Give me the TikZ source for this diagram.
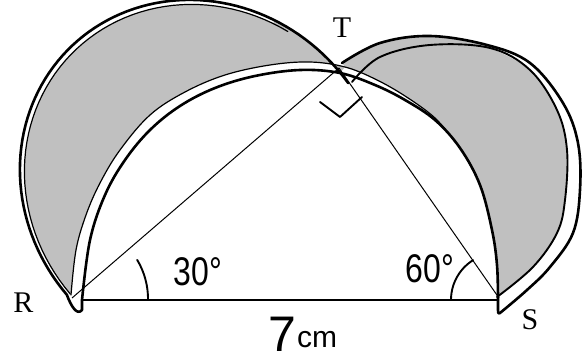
\documentclass[tikz,border=0pt]{standalone}
\usepackage{fontspec}
\setmainfont{Liberation Serif}
\newfontfamily\handfont{Liberation Sans}
\definecolor{lunegray}{RGB}{192,192,192}
\tikzset{
  thickline/.style={line width=2.6pt, line cap=round, line join=round},
  medline/.style={line width=1.9pt, line cap=round, line join=round},
  thinline/.style={line width=1.2pt, line cap=round},
  hairline/.style={line width=1pt},
  lune/.style={fill=lunegray},
  lbl/.style={font=\fontsize{30}{30}\selectfont, inner sep=0pt},
  hand/.style={font=\handfont\fontsize{40}{40}\selectfont, inner sep=0pt, xscale=0.8},
}
% rotated ellipse (outer arc on RT): centre, axes a,b along upper-left / upper-right
\def\ox#1#2#3#4{#3+#1*cos(#4)*(-0.7071)+#2*sin(#4)*(0.7071)}
\def\oy#1#2#3#4{#3+#1*cos(#4)*(-0.7071)+#2*sin(#4)*(-0.7071)}
\begin{document}
\begin{tikzpicture}[x=1pt,y=-1pt]
\useasboundingbox (0,0) rectangle (582,363);
\coordinate (R) at (72,298);
\coordinate (T) at (339,68);
\coordinate (S) at (499,298);
\coordinate (B) at (82,300);
\coordinate (E) at (498,300);

% shaded lunes
\fill[lune] plot[domain=-85:70,samples=60] ({\ox{185}{173}{203.5}{\x}},{\oy{185}{173}{183.5}{\x}})
  -- plot[domain=70:96,samples=15] ({\ox{189}{176}{202.5}{\x}},{\oy{189}{176}{182.5}{\x}})
  -- plot[smooth,tension=0.6] coordinates {(345,67) (310,62) (270,65) (225,75) (185,92) (150,115) (120,150) (100,183) (86,215) (76,250) (71,295)} -- cycle;
\fill[lune] plot[smooth,tension=0.6] coordinates {(342,63) (380,43) (430,36) (487,45)}
  -- plot[smooth,tension=0.6] coordinates {(490,48) (530,70) (557,110) (567,150) (565,200) (557,233) (533,267) (497,297)}
  -- plot[smooth,tension=0.6] coordinates {(498,300) (497,265) (492,230) (480,185) (460,148) (435,118) (405,96) (375,79) (345,67)} -- cycle;

% main continuous stroke
\draw[thickline] plot[domain=100:-85,samples=80] ({\ox{189}{176}{202.5}{\x}},{\oy{189}{176}{182.5}{\x}})
  .. controls (71,306) and (77,316) .. (82,310)
  -- plot[smooth,tension=0.6] coordinates {(82,300) (90,240) (105,195) (125,160) (150,130) (180,106) (215,88) (255,76) (300,70) (340,73) (375,85) (405,100) (435,120) (460,148) (480,185) (492,230) (497,265) (498,300)}
  -- (498,310) .. controls (498,314) and (499,314) .. (500,313)
  -- plot[smooth,tension=0.6] coordinates {(500,313) (527,290) (550,267) (573,233) (580,190) (578,143) (563,103) (530,63) (487,45) (430,36) (380,43) (342,63)};

% second strokes
\draw[thinline] plot[domain=-85:75,samples=60] ({\ox{185}{173}{203.5}{\x}},{\oy{185}{173}{183.5}{\x}});
\draw[thinline] plot[smooth,tension=0.6] coordinates {(71,295) (76,250) (86,215) (100,183) (120,150) (150,115) (185,92) (225,75) (270,65) (310,62) (345,67) (375,79) (405,96) (435,118) (455,142)};
\draw[medline] plot[smooth,tension=0.6] coordinates {(352,82) (380,57) (430,45) (490,48) (530,70) (557,110) (567,150) (565,200) (557,233) (533,267) (497,297)};

% base and sides
\draw[thickline] (B) -- (E);
\draw[hairline] (R) -- (T);
\draw[hairline] (T) -- (S);

% right angle and angle marks
\draw[medline] (320,102) -- (340,117) -- (362,97);
\draw[medline] plot[domain=0:31,samples=20] ({72+76*cos(\x)},{299-76*sin(\x)});
\draw[medline] plot[domain=180:122,samples=20] ({498+47*cos(\x)},{300-47*sin(\x)});

% labels
\node[lbl] (Rl) at (23.5,302.5) {R};
\node[lbl] (Tl) at (342,28) {T};
\node[lbl] (Sl) at (530,320) {S};
\node[hand] (a30) at (198,272) {30°};
\node[hand] (a60) at (430,269) {60°};
\node[inner sep=0pt, anchor=base west, font=\handfont] (len) at (268,352) {\fontsize{50}{50}\selectfont 7\hspace{1pt}\raisebox{4pt}{\fontsize{30}{30}\selectfont cm}};
\end{tikzpicture}
\end{document}
